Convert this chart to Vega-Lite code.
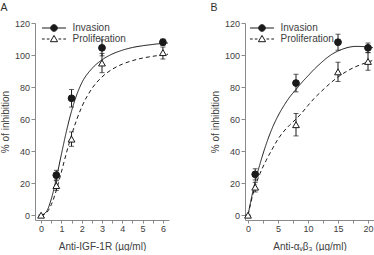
{
  "$schema": "https://vega.github.io/schema/vega-lite/v6.json",
  "padding": {"left": 0, "top": 2, "right": 0, "bottom": 0},
  "config": {
    "font": "Liberation Sans",
    "view": {"stroke": null},
    "concat": {"spacing": 40},
    "title": {"fontSize": 10.5, "fontWeight": "normal", "color": "#303030", "anchor": "start", "frame": "bounds", "offset": 6},
    "axis": {"domainColor": "#8a8a8a", "tickColor": "#8a8a8a", "labelColor": "#404040", "titleColor": "#404040", "labelFontSize": 9, "titleFontSize": 10, "titleFontWeight": "normal", "grid": false, "tickSize": 4, "labelPadding": 1.5, "domainWidth": 1, "tickWidth": 1, "labelFlush": false, "labelOverlap": false},
    "legend": {"labelFontSize": 10, "labelColor": "#404040"}
  },
  "datasets": {
    "curvesA": [
      {"x": 0, "y": 0, "s": "Invasion"}, {"x": 0.25, "y": 2, "s": "Invasion"}, {"x": 0.5, "y": 10, "s": "Invasion"}, {"x": 0.75, "y": 23, "s": "Invasion"}, {"x": 1, "y": 38, "s": "Invasion"}, {"x": 1.25, "y": 52.5, "s": "Invasion"}, {"x": 1.5, "y": 65, "s": "Invasion"}, {"x": 1.75, "y": 75, "s": "Invasion"}, {"x": 2, "y": 82.5, "s": "Invasion"}, {"x": 2.5, "y": 91.5, "s": "Invasion"}, {"x": 3, "y": 97, "s": "Invasion"}, {"x": 3.5, "y": 100.6, "s": "Invasion"}, {"x": 4, "y": 103, "s": "Invasion"}, {"x": 4.5, "y": 104.7, "s": "Invasion"}, {"x": 5, "y": 105.8, "s": "Invasion"}, {"x": 5.5, "y": 106.6, "s": "Invasion"}, {"x": 6, "y": 107.3, "s": "Invasion"}, {"x": 6.25, "y": 107.5, "s": "Invasion"},
      {"x": 0, "y": 0, "s": "Proliferation"}, {"x": 0.25, "y": 1.3, "s": "Proliferation"}, {"x": 0.5, "y": 6.5, "s": "Proliferation"}, {"x": 0.75, "y": 15.5, "s": "Proliferation"}, {"x": 1, "y": 27, "s": "Proliferation"}, {"x": 1.25, "y": 39, "s": "Proliferation"}, {"x": 1.5, "y": 50, "s": "Proliferation"}, {"x": 1.75, "y": 59.5, "s": "Proliferation"}, {"x": 2, "y": 67.5, "s": "Proliferation"}, {"x": 2.5, "y": 79, "s": "Proliferation"}, {"x": 3, "y": 86.3, "s": "Proliferation"}, {"x": 3.5, "y": 91.1, "s": "Proliferation"}, {"x": 4, "y": 94.3, "s": "Proliferation"}, {"x": 4.5, "y": 96.5, "s": "Proliferation"}, {"x": 5, "y": 98.1, "s": "Proliferation"}, {"x": 5.5, "y": 99.2, "s": "Proliferation"}, {"x": 6, "y": 100.1, "s": "Proliferation"}, {"x": 6.25, "y": 100.5, "s": "Proliferation"}
    ],
    "pointsA": [
      {"x": 0.75, "y": 25, "lo": 22, "hi": 28, "s": "Invasion"},
      {"x": 1.5, "y": 73, "lo": 67.5, "hi": 78.5, "s": "Invasion"},
      {"x": 3, "y": 104.5, "lo": 99.5, "hi": 109.5, "s": "Invasion"},
      {"x": 6, "y": 108, "lo": 106, "hi": 110, "s": "Invasion"},
      {"x": 0, "y": 0, "lo": 0, "hi": 0, "s": "Proliferation"},
      {"x": 0.75, "y": 18.5, "lo": 15.5, "hi": 21.5, "s": "Proliferation"},
      {"x": 1.5, "y": 47.5, "lo": 43, "hi": 52, "s": "Proliferation"},
      {"x": 3, "y": 95, "lo": 89, "hi": 101, "s": "Proliferation"},
      {"x": 6, "y": 101.5, "lo": 97.5, "hi": 105, "s": "Proliferation"}
    ],
    "curvesB": [
      {"x": 0, "y": 0, "s": "Invasion"}, {"x": 1, "y": 18, "s": "Invasion"}, {"x": 2, "y": 32, "s": "Invasion"}, {"x": 3, "y": 44, "s": "Invasion"}, {"x": 4, "y": 54, "s": "Invasion"}, {"x": 5, "y": 62, "s": "Invasion"}, {"x": 6, "y": 68.5, "s": "Invasion"}, {"x": 7, "y": 74, "s": "Invasion"}, {"x": 8, "y": 78.5, "s": "Invasion"}, {"x": 9, "y": 83, "s": "Invasion"}, {"x": 10, "y": 87, "s": "Invasion"}, {"x": 11, "y": 91, "s": "Invasion"}, {"x": 12, "y": 94.5, "s": "Invasion"}, {"x": 13, "y": 97.8, "s": "Invasion"}, {"x": 14, "y": 100.5, "s": "Invasion"}, {"x": 15, "y": 102.5, "s": "Invasion"}, {"x": 16, "y": 104, "s": "Invasion"}, {"x": 17, "y": 105, "s": "Invasion"}, {"x": 18, "y": 105.4, "s": "Invasion"}, {"x": 19, "y": 105.3, "s": "Invasion"}, {"x": 20, "y": 105, "s": "Invasion"}, {"x": 20.8, "y": 104.6, "s": "Invasion"},
      {"x": 0, "y": 0, "s": "Proliferation"}, {"x": 1, "y": 15.5, "s": "Proliferation"}, {"x": 2, "y": 26, "s": "Proliferation"}, {"x": 3, "y": 34, "s": "Proliferation"}, {"x": 4, "y": 41, "s": "Proliferation"}, {"x": 5, "y": 47.5, "s": "Proliferation"}, {"x": 6, "y": 52.5, "s": "Proliferation"}, {"x": 7, "y": 56.5, "s": "Proliferation"}, {"x": 8, "y": 60, "s": "Proliferation"}, {"x": 9, "y": 64, "s": "Proliferation"}, {"x": 10, "y": 68.5, "s": "Proliferation"}, {"x": 11, "y": 72.8, "s": "Proliferation"}, {"x": 12, "y": 76.5, "s": "Proliferation"}, {"x": 13, "y": 80, "s": "Proliferation"}, {"x": 14, "y": 83.3, "s": "Proliferation"}, {"x": 15, "y": 86.3, "s": "Proliferation"}, {"x": 16, "y": 88.8, "s": "Proliferation"}, {"x": 17, "y": 91, "s": "Proliferation"}, {"x": 18, "y": 92.8, "s": "Proliferation"}, {"x": 19, "y": 94.3, "s": "Proliferation"}, {"x": 20, "y": 95.7, "s": "Proliferation"}, {"x": 20.8, "y": 96.6, "s": "Proliferation"}
    ],
    "pointsB": [
      {"x": 1.2, "y": 25.5, "lo": 22, "hi": 29, "s": "Invasion"},
      {"x": 8, "y": 82.5, "lo": 77, "hi": 88, "s": "Invasion"},
      {"x": 15, "y": 108, "lo": 103, "hi": 113, "s": "Invasion"},
      {"x": 20, "y": 104.5, "lo": 101.5, "hi": 107.5, "s": "Invasion"},
      {"x": 0, "y": 0, "lo": 0, "hi": 0, "s": "Proliferation"},
      {"x": 1.2, "y": 17.5, "lo": 14.5, "hi": 20.5, "s": "Proliferation"},
      {"x": 8, "y": 56.5, "lo": 49.5, "hi": 63.5, "s": "Proliferation"},
      {"x": 15, "y": 89.5, "lo": 83.5, "hi": 95.5, "s": "Proliferation"},
      {"x": 20, "y": 96, "lo": 90.5, "hi": 101.5, "s": "Proliferation"}
    ]
  },
  "resolve": {
    "scale": {"x": "independent", "y": "independent", "shape": "independent", "fill": "independent", "strokeDash": "independent"}
  },
  "hconcat": [
    {
      "width": 134,
      "height": 197,
      "title": {"text": "A"},
      "resolve": {"scale": {"shape": "independent", "fill": "independent"}},
      "encoding": {
        "x": {"field": "x", "type": "quantitative", "scale": {"domain": [-0.3, 6.3], "nice": false, "zero": false},
              "axis": {"title": "Anti-IGF-1R (µg/ml)", "values": [0, 0.5, 1, 1.5, 2, 2.5, 3, 3.5, 4, 4.5, 5, 5.5, 6], "labelExpr": "datum.value % 1 === 0 ? format(datum.value, 'd') : ''", "tickSize": 3, "labelPadding": 1, "titlePadding": 8}},
        "y": {"field": "y", "type": "quantitative", "scale": {"domain": [-3, 120], "nice": false, "zero": false},
              "axis": {"title": "% of inhibition", "values": [0, 20, 40, 60, 80, 100, 120], "titlePadding": 4}}
      },
      "layer": [
        {
          "data": {"name": "curvesA"},
          "mark": {"type": "line", "color": "#1a1a1a", "strokeWidth": 1, "interpolate": "monotone"},
          "encoding": {"strokeDash": {"field": "s", "type": "nominal", "scale": {"domain": ["Invasion", "Proliferation"], "range": [[1, 0], [4, 3]]}, "legend": null}}
        },
        {
          "data": {"name": "pointsA"},
          "mark": {"type": "rule", "color": "#1a1a1a", "strokeWidth": 1},
          "encoding": {"y": {"field": "lo", "type": "quantitative"}, "y2": {"field": "hi"}}
        },
        {
          "data": {"name": "pointsA"},
          "mark": {"type": "tick", "orient": "horizontal", "color": "#1a1a1a", "size": 5, "thickness": 1},
          "encoding": {"y": {"field": "lo", "type": "quantitative"}}
        },
        {
          "data": {"name": "pointsA"},
          "mark": {"type": "tick", "orient": "horizontal", "color": "#1a1a1a", "size": 5, "thickness": 1},
          "encoding": {"y": {"field": "hi", "type": "quantitative"}}
        },
        {
          "data": {"name": "pointsA"},
          "mark": {"type": "point", "filled": true, "stroke": "#1a1a1a", "strokeWidth": 1, "opacity": 1, "size": 46},
          "encoding": {
            "shape": {"field": "s", "type": "nominal", "scale": {"domain": ["Invasion", "Proliferation"], "range": ["circle", "triangle-up"]}, "legend": null},
            "fill": {"field": "s", "type": "nominal", "scale": {"domain": ["Invasion", "Proliferation"], "range": ["#1a1a1a", "white"]}, "legend": null}
          }
        },
        {
          "data": {"name": "pointsA"},
          "transform": [{"filter": "datum.x < -100"}],
          "mark": {"type": "point", "filled": true, "stroke": "#1a1a1a", "strokeWidth": 1, "opacity": 1},
          "encoding": {
            "shape": {"field": "s", "type": "nominal", "scale": {"domain": ["Invasion", "Proliferation"], "range": ["M-4,0L-1.1,0M1.1,0L4,0M-1.1,0A1.1,1.1,0,1,1,1.1,0A1.1,1.1,0,1,1,-1.1,0Z", "M-4,0L-3.1,0M-2.4,0L-1.5,0M0,-1.2L1.2,0.9L-1.2,0.9ZM1.5,0L2.4,0M3.1,0L4,0"]},
                      "legend": {"orient": "none", "legendX": 14, "legendY": 0, "title": null, "symbolSize": 36, "rowPadding": -1, "labelOffset": 13.5, "symbolStrokeWidth": 1}},
            "fill": {"field": "s", "type": "nominal", "scale": {"domain": ["Invasion", "Proliferation"], "range": ["#1a1a1a", "white"]}}
          }
        }
      ]
    },
    {
      "width": 129,
      "height": 197,
      "title": {"text": "B"},
      "resolve": {"scale": {"shape": "independent", "fill": "independent"}},
      "encoding": {
        "x": {"field": "x", "type": "quantitative", "scale": {"domain": [-0.5, 21], "nice": false, "zero": false},
              "axis": {"title": "Anti-αᵥβ₃ (µg/ml)", "values": [0, 2.5, 5, 7.5, 10, 12.5, 15, 17.5, 20], "labelExpr": "datum.value % 5 === 0 ? format(datum.value, 'd') : ''", "tickSize": 3, "labelPadding": 1, "titlePadding": 8}},
        "y": {"field": "y", "type": "quantitative", "scale": {"domain": [-3, 120], "nice": false, "zero": false},
              "axis": {"title": "% of inhibition", "values": [0, 20, 40, 60, 80, 100, 120], "titlePadding": 4}}
      },
      "layer": [
        {
          "data": {"name": "curvesB"},
          "mark": {"type": "line", "color": "#1a1a1a", "strokeWidth": 1, "interpolate": "monotone"},
          "encoding": {"strokeDash": {"field": "s", "type": "nominal", "scale": {"domain": ["Invasion", "Proliferation"], "range": [[1, 0], [4, 3]]}, "legend": null}}
        },
        {
          "data": {"name": "pointsB"},
          "mark": {"type": "rule", "color": "#1a1a1a", "strokeWidth": 1},
          "encoding": {"y": {"field": "lo", "type": "quantitative"}, "y2": {"field": "hi"}}
        },
        {
          "data": {"name": "pointsB"},
          "mark": {"type": "tick", "orient": "horizontal", "color": "#1a1a1a", "size": 5, "thickness": 1},
          "encoding": {"y": {"field": "lo", "type": "quantitative"}}
        },
        {
          "data": {"name": "pointsB"},
          "mark": {"type": "tick", "orient": "horizontal", "color": "#1a1a1a", "size": 5, "thickness": 1},
          "encoding": {"y": {"field": "hi", "type": "quantitative"}}
        },
        {
          "data": {"name": "pointsB"},
          "mark": {"type": "point", "filled": true, "stroke": "#1a1a1a", "strokeWidth": 1, "opacity": 1, "size": 46},
          "encoding": {
            "shape": {"field": "s", "type": "nominal", "scale": {"domain": ["Invasion", "Proliferation"], "range": ["circle", "triangle-up"]}, "legend": null},
            "fill": {"field": "s", "type": "nominal", "scale": {"domain": ["Invasion", "Proliferation"], "range": ["#1a1a1a", "white"]}, "legend": null}
          }
        },
        {
          "data": {"name": "pointsB"},
          "transform": [{"filter": "datum.x < -100"}],
          "mark": {"type": "point", "filled": true, "stroke": "#1a1a1a", "strokeWidth": 1, "opacity": 1},
          "encoding": {
            "shape": {"field": "s", "type": "nominal", "scale": {"domain": ["Invasion", "Proliferation"], "range": ["M-4,0L-1.1,0M1.1,0L4,0M-1.1,0A1.1,1.1,0,1,1,1.1,0A1.1,1.1,0,1,1,-1.1,0Z", "M-4,0L-3.1,0M-2.4,0L-1.5,0M0,-1.2L1.2,0.9L-1.2,0.9ZM1.5,0L2.4,0M3.1,0L4,0"]},
                      "legend": {"orient": "none", "legendX": 12, "legendY": 0, "title": null, "symbolSize": 36, "rowPadding": -1, "labelOffset": 13.5, "symbolStrokeWidth": 1}},
            "fill": {"field": "s", "type": "nominal", "scale": {"domain": ["Invasion", "Proliferation"], "range": ["#1a1a1a", "white"]}}
          }
        }
      ]
    }
  ]
}
